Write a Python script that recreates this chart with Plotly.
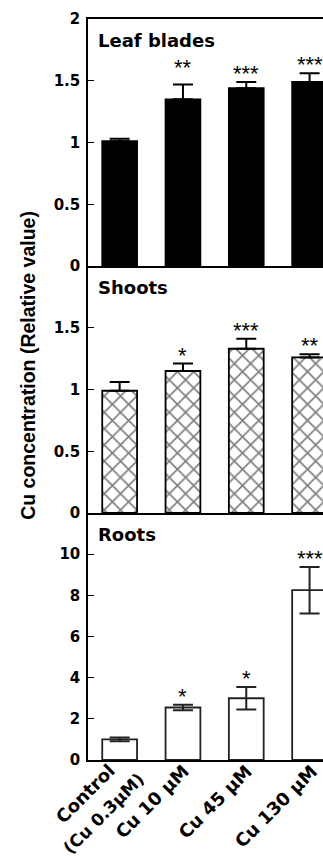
import plotly.graph_objects as go
from plotly.subplots import make_subplots

categories = ["Control<br>(Cu 0.3μM)", "Cu 10 μM", "Cu 45 μM", "Cu 130 μM"]

leaf_values = [1.01, 1.35, 1.44, 1.49]
leaf_errors = [0.02, 0.12, 0.05, 0.07]
leaf_stars = ["", "**", "***", "***"]

shoot_values = [0.99, 1.15, 1.33, 1.26]
shoot_errors = [0.07, 0.06, 0.08, 0.025]
shoot_stars = ["", "*", "***", "**"]

root_values = [1.0, 2.55, 3.0, 8.25]
root_errors = [0.09, 0.13, 0.55, 1.13]
root_stars = ["", "*", "*", "***"]

panel_titles = ["Leaf blades", "Shoots", "Roots"]
y_ranges = [[0, 2], [0, 2], [0, 12]]
y_ticks = [[0, 0.5, 1, 1.5, 2], [0, 0.5, 1, 1.5], [0, 2, 4, 6, 8, 10]]
y_ticktext = [["0", "0.5", "1", "1.5", "2"], ["0", "0.5", "1", "1.5"], ["0", "2", "4", "6", "8", "10"]]

FONT = "DejaVu Sans, sans-serif"
ARIAL = "Liberation Sans, Arial, sans-serif"

fig = make_subplots(rows=3, cols=1, vertical_spacing=0)

# Leaf blades: solid black bars, upward error bars
fig.add_trace(go.Bar(
    x=categories, y=leaf_values, width=0.55,
    marker=dict(color="black", line=dict(color="black", width=1.8)),
    error_y=dict(type="data", symmetric=False, array=leaf_errors,
                 arrayminus=[0] * len(leaf_errors), color="black", thickness=2, width=10),
    showlegend=False, hoverinfo="skip"), row=1, col=1)

# Shoots: cross-hatched bars, upward error bars
fig.add_trace(go.Bar(
    x=categories, y=shoot_values, width=0.55,
    marker=dict(color="white", line=dict(color="black", width=1.8),
                pattern=dict(shape="x", fgcolor="black", bgcolor="white", size=11.5, solidity=0.27)),
    error_y=dict(type="data", symmetric=False, array=shoot_errors,
                 arrayminus=[0] * len(shoot_errors), color="black", thickness=2, width=10),
    showlegend=False, hoverinfo="skip"), row=2, col=1)

# Roots: white bars, symmetric error bars
fig.add_trace(go.Bar(
    x=categories, y=root_values, width=0.55,
    marker=dict(color="white", line=dict(color="#222", width=1.8)),
    error_y=dict(type="data", array=root_errors, color="#222", thickness=2, width=10),
    showlegend=False, hoverinfo="skip"), row=3, col=1)

axis_font = dict(family=FONT, size=15, color="black", weight="bold")

for r in range(1, 4):
    fig.update_xaxes(
        type="category", categoryorder="array", categoryarray=categories,
        range=[-0.5, 3.212], showline=True, linecolor="black", linewidth=1.5,
        mirror=(r == 1), ticks="", showgrid=False, zeroline=False,
        showticklabels=False, automargin=False,
        row=r, col=1)
    fig.update_yaxes(
        range=y_ranges[r - 1], tickvals=y_ticks[r - 1], ticktext=y_ticktext[r - 1],
        showline=True, linecolor="black", linewidth=1.5, ticks="inside", ticklen=6,
        tickwidth=1.2, tickcolor="black", showgrid=False, zeroline=False,
        tickfont=axis_font, automargin=False, ticklabelstandoff=3,
        row=r, col=1)

# category labels below the bottom panel, rotated 45 degrees (one annotation per text line)
line_shift = {(0, 0): (2, 3), (0, 1): (32, -6), (1, 0): (13, 2), (2, 0): (13, 2), (3, 0): (14, 2)}
line_size = {(0, 1): 17}
for i, lab in enumerate(categories):
    for j, part in enumerate(lab.split("<br>")):
        dx, dy = line_shift[(i, j)]
        fig.add_annotation(
            x=lab, y=0, xref="x3", yref="y3", text=part, showarrow=False,
            textangle=-45, xanchor="right", yanchor="top",
            xshift=dx, yshift=dy,
            font=dict(family=FONT, size=line_size.get((i, j), 18), color="black", weight="bold"))

# significance stars
star_sets = [(leaf_values, leaf_errors, leaf_stars, 1),
             (shoot_values, shoot_errors, shoot_stars, 2),
             (root_values, root_errors, root_stars, 3)]
for vals, errs, stars, r in star_sets:
    for i, (v, e, s) in enumerate(zip(vals, errs, stars)):
        if not s:
            continue
        shift = -6
        if r == 1 and i == 1:
            shift = 2
        fig.add_annotation(
            x=categories[i], y=v + e, xref=f"x{'' if r == 1 else r}", yref=f"y{'' if r == 1 else r}",
            text=s, showarrow=False, yanchor="bottom", yshift=shift,
            font=dict(family=ARIAL, size=22, color="black"))

# panel titles
for r, t in enumerate(panel_titles, start=1):
    fig.add_annotation(
        x=0.035, xref="paper", y=1, yref=f"y{'' if r == 1 else r} domain",
        text=t, showarrow=False, xanchor="left", yanchor="top", yshift=-9,
        font=dict(family=FONT, size=18, color="black", weight="bold"))

# y-axis title
fig.add_annotation(
    x=-0.255, xref="paper", y=0.532, yref="paper", text="Cu concentration (Relative value)",
    textangle=-90, showarrow=False, xanchor="center", yanchor="middle",
    font=dict(family=ARIAL, size=19.5, color="black", weight="bold"))

fig.update_layout(
    width=323, height=856, margin=dict(l=88, r=0, t=19, b=96),
    paper_bgcolor="white", plot_bgcolor="white", bargap=0.45,
    font=dict(family=FONT, color="black"))

fig.write_html("out.html")
